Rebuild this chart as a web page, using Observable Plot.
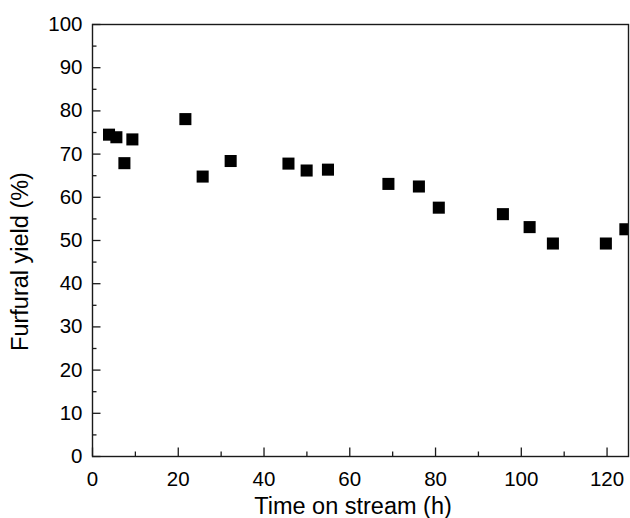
<!DOCTYPE html>
<html>
<head>
<meta charset="utf-8">
<script src="https://cdn.jsdelivr.net/npm/d3@7"></script>
<script src="https://cdn.jsdelivr.net/npm/@observablehq/plot@0.6"></script>
<style>
  html, body { margin: 0; padding: 0; background: #fff; }
  #chart svg { display: block; }
</style>
</head>
<body>
<div id="chart"></div>
<script>
// Data
const timeOnStream = [3.85, 5.57, 7.44, 9.30, 21.66, 25.69, 32.22, 45.70, 49.94, 54.91, 69.01, 76.12, 80.76, 95.71, 101.94, 107.37, 119.72, 124.27];
const furfuralYield = [74.5, 73.9, 67.9, 73.4, 78.1, 64.8, 68.4, 67.8, 66.2, 66.4, 63.1, 62.5, 57.6, 56.1, 53.1, 49.3, 49.3, 52.6];

const xMajorTicks = [0, 20, 40, 60, 80, 100, 120];
const xMinorTicks = [10, 30, 50, 70, 90, 110];
const yMajorTicks = [0, 10, 20, 30, 40, 50, 60, 70, 80, 90, 100];
const yMinorTicks = [5, 15, 25, 35, 45, 55, 65, 75, 85, 95];

const xLabel = "Time on stream (h)";
const yLabel = "Furfural yield (%)";

const data = timeOnStream.map((t, i) => ({t, y: furfuralYield[i]}));

const axisColor = "#1a1a1a";

const chart = Plot.plot({
  width: 630,
  height: 518,
  marginLeft: 92,
  marginRight: 2,
  marginTop: 24,
  marginBottom: 62,
  style: {fontFamily: "'Liberation Sans', Arial, sans-serif", fontSize: "20.5px", background: "#fff", color: "#000"},
  x: {domain: [0, 125]},
  y: {domain: [0, 100]},
  marks: [
    // tick labels
    Plot.axisX(xMajorTicks, {tickSize: 0, tickPadding: 15, fontSize: 20.5, fill: "#000", label: null}),
    Plot.axisY(yMajorTicks, {tickSize: 0, tickPadding: 10, fontSize: 20.5, fill: "#000", label: null}),
    // inward ticks
    Plot.axisX(xMajorTicks, {tickSize: -8.5, text: null, stroke: axisColor, strokeWidth: 1.3, label: null}),
    Plot.axisX(xMinorTicks, {tickSize: -4.5, text: null, stroke: axisColor, strokeWidth: 1.3, label: null}),
    Plot.axisY(yMajorTicks, {tickSize: -8.5, text: null, stroke: axisColor, strokeWidth: 1.3, label: null}),
    Plot.axisY(yMinorTicks, {tickSize: -4.5, text: null, stroke: axisColor, strokeWidth: 1.3, label: null}),
    // data
    Plot.dot(data, {x: "t", y: "y", symbol: "square", r: 6.8, fill: "#000", stroke: null, clip: true}),
    Plot.frame({stroke: axisColor, strokeWidth: 1.4}),
    // axis titles
    Plot.text([xLabel], {text: d => d, frameAnchor: "bottom", textAnchor: "middle", lineAnchor: "bottom", dy: 57, dx: -7.5, fontSize: 23.5, fill: "#000"}),
    Plot.text([yLabel], {text: d => d, frameAnchor: "left", textAnchor: "middle", rotate: -90, lineAnchor: "middle", dx: -72.5, dy: 21, fontSize: 23.5, fill: "#000"})
  ]
});

document.getElementById("chart").appendChild(chart);
</script>
</body>
</html>
